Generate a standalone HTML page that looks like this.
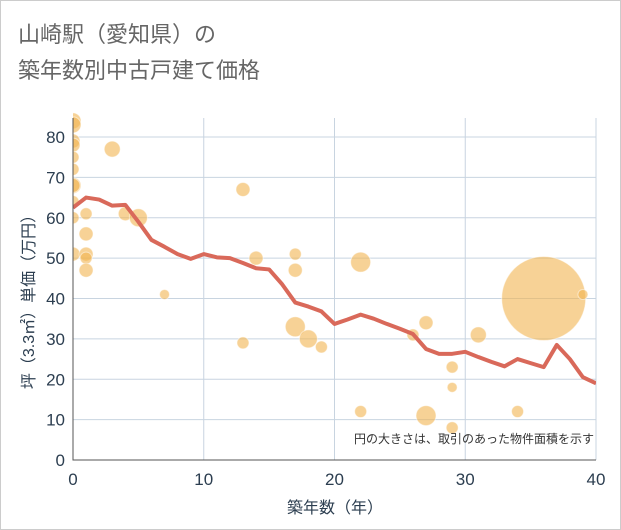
<!DOCTYPE html>
<html><head><meta charset="utf-8"><style>
body{margin:0;background:#fff}
svg{display:block;font-family:"Liberation Sans","Noto Sans CJK JP",sans-serif}
</style></head><body>
<svg width="621" height="530">
<defs><clipPath id="clip"><rect x="73" y="100" width="523" height="360"/></clipPath></defs>
<rect x="0.5" y="0.5" width="620" height="529" fill="#fff" stroke="#ccc"/>
<text x="18" y="42" font-size="22" fill="#666">山崎駅（愛知県）の</text>
<text x="18" y="78" font-size="22" fill="#666">築年数別中古戸建て価格</text>
<g id="grid"></g>
<g id="pts" clip-path="url(#clip)"></g>
<path id="line" fill="none" stroke="#d9695a" stroke-width="4" stroke-linejoin="round" clip-path="url(#clip)"/>
<g id="axes"></g>
<text x="594" y="443" font-size="12" fill="#333" text-anchor="end">円の大きさは、取引のあった物件面積を示す</text>
<text x="335" y="513" font-size="16" fill="#2c3e50" text-anchor="middle">築年数（年）</text>
<text transform="translate(34,298) rotate(-90)" font-size="16" fill="#2c3e50" text-anchor="middle">坪（3.3㎡）単価（万円）</text>
</svg>
<script>
const xTicks=[0,10,20,30,40];
const yTicks=[0,10,20,30,40,50,60,70,80];
const lineX=[0,1,2,3,4,5,6,7,8,9,10,11,12,13,14,15,16,17,18,19,20,21,22,23,24,25,26,27,28,29,30,31,32,33,34,35,36,37,38,39,40];
const lineY=[62.5,65,64.5,63,63.2,59,54.5,52.8,51,49.8,51,50.2,50,48.8,47.5,47.2,43.5,39,38,36.8,33.7,34.8,36,35,33.7,32.5,31.2,27.5,26.3,26.3,26.8,25.5,24.3,23.2,25,24,23,28.5,25,20.5,19];
const ptX=[0,0,0,0,0,0,0,0,0,0,0,1,1,1,1,1,3,4,5,7,13,13,14,17,17,17,18,19,22,22,26,27,27,29,29,29,31,34,36,39];
const ptY=[84,83,79,78,75,72,68,68,64,60,51,61,56,51,50,47,77,61,60,41,67,29,50,51,47,33,30,28,49,12,31,34,11,23,18,8,31,12,40,41];
const ptR=[8,8,7,7,6,6,8,7,6,6,7,6,7,7,6,7,8,7,9,5,7,6,7,6,7,10,9,6,10,6,6,7,10,6,5,6,8,6,42,5];
const X0=73,X1=596,Y0=460,Y1=137;
const sx=v=>X0+(v-0)/40*(X1-X0), sy=v=>Y0-v/80*(Y0-Y1);
const NS="http://www.w3.org/2000/svg";
const g=document.getElementById('grid'),a=document.getElementById('axes'),p=document.getElementById('pts');
function mk(tag,attrs,par){const e=document.createElementNS(NS,tag);for(const k in attrs)e.setAttribute(k,attrs[k]);par.appendChild(e);return e;}
yTicks.forEach(t=>{const l=mk('line',{x1:X0,x2:X1,y1:sy(t),y2:sy(t),stroke:'#c8d4e0'},g);


const tx=mk('text',{x:X0-8,y:sy(t)+6,'font-size':17,fill:'#2c3e50','text-anchor':'end'},a);tx.textContent=t;

});
xTicks.forEach(t=>{const l=mk('line',{x1:sx(t),x2:sx(t),y1:118,y2:Y0,stroke:'#c8d4e0'},g);


const tx=mk('text',{x:sx(t),y:Y0+25,'font-size':17,fill:'#2c3e50','text-anchor':'middle'},a);tx.textContent=t;

});
const ax=mk('path',{d:`M${X0},118V${Y0}H${X1}`,fill:'none',stroke:'#555','stroke-width':1},a);


ptX.forEach((v,i)=>{const c=mk('circle',{cx:sx(v),cy:sy(ptY[i]),r:ptR[i],fill:'rgba(242,180,80,0.6)',stroke:'rgba(255,255,255,0.5)'},p);

});
document.getElementById('line').setAttribute('d',lineX.map((v,i)=>(i?'L':'M')+sx(v)+','+sy(lineY[i])).join(''));
</script>
</body></html>
